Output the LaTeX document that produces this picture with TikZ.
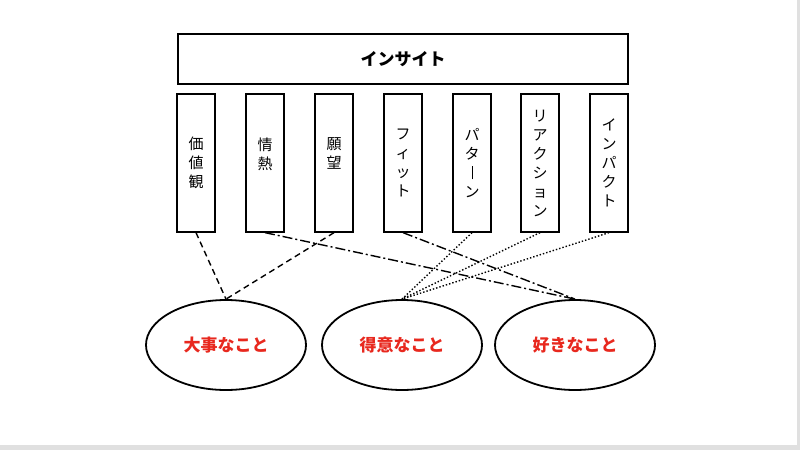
\documentclass[tikz,border=0pt]{standalone}
\usepackage{fontspec}
\usetikzlibrary{shapes.geometric}
\setmainfont{Noto Sans CJK JP}
\definecolor{jred}{HTML}{E8281E}
\begin{document}
\begin{tikzpicture}[x=1pt,y=-1pt,
  box/.style={draw,line width=1.3pt,minimum width=38pt,minimum height=138pt,inner sep=0pt,font=\fontsize{15}{19}\selectfont,align=center},
  ell/.style={draw,ellipse,line width=1.8pt,minimum width=160pt,minimum height=90pt,font=\fontsize{17}{20}\selectfont\bfseries,text=jred},
  ln/.style={line width=1.4pt}]
\fill[black!12] (0,0) rectangle (800,450);
\fill[white] (0,0) rectangle (797,445);
\useasboundingbox (0,0) rectangle (800,450);
\node[draw,line width=1.8pt,minimum width=450pt,minimum height=50pt,font=\fontsize{17}{20}\selectfont\bfseries] (top) at (403,59) {インサイト};
\node[box] (b1) at (196,163) {価\\値\\観};
\node[box] (b2) at (265,163) {情\\熱\\\ };
\node[box] (b3) at (334,163) {願\\望\\\ };
\node[box] (b4) at (403,163) {フ\\ィ\\ッ\\ト};
\node[box] (b5) at (472,163) {パ\\タ\\\raisebox{-1pt}{\rule{0.9pt}{13pt}}\\ン};
\node[box] (b6) at (540,163) {リ\\ア\\ク\\シ\\ョ\\ン};
\node[box] (b7) at (609,163) {イ\\ン\\パ\\ク\\ト};
\node[ell] (e1) at (226,345) {大事なこと};
\node[ell] (e2) at (402,345) {得意なこと};
\node[ell] (e3) at (575,345) {好きなこと};
\draw[ln,dash pattern=on 6pt off 4pt] (b1.south) -- (e1.north);
\draw[ln,dash pattern=on 6pt off 4pt] (b3.south) -- (e1.north);
\draw[ln,dash pattern=on 10pt off 3pt on 2pt off 3pt] (b2.south) -- (e3.north);
\draw[ln,dash pattern=on 10pt off 3pt on 2pt off 3pt] (b4.south) -- (e3.north);
\draw[ln,dotted] (b5.south) -- (e2.north);
\draw[ln,dotted] (b6.south) -- (e2.north);
\draw[ln,dotted] (b7.south) -- (e2.north);
\end{tikzpicture}
\end{document}
